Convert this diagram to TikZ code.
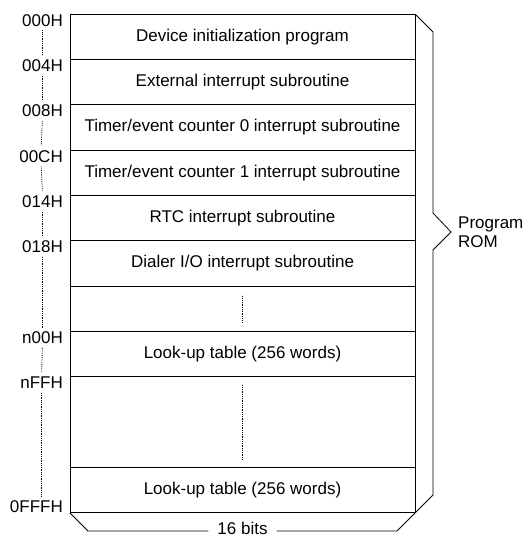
\documentclass[tikz,border=0pt]{standalone}
\usepackage{fontspec}
\setmainfont{Liberation Sans}
\usetikzlibrary{positioning}

\begin{document}
\begin{tikzpicture}[x=1pt,y=-1pt,font=\fontsize{17}{19}\selectfont,
	row/.style={draw,line width=1pt,minimum width=345pt,minimum height=45.36pt,inner sep=0pt,outer sep=0pt},
	addr/.style={inner sep=0pt,anchor=north east,xshift=-7pt},
	gap/.style={densely dotted,line width=0.8pt},
	edge/.style={line width=0.8pt}]
		\useasboundingbox (0,0) rectangle (525,536);

		\node[row]									(r1)	at (242.5,36.68)	{Device initialization program};
		\node[row,below=0pt of r1]					(r2)		{External interrupt subroutine};
		\node[row,below=0pt of r2]					(r3)		{Timer/event counter 0 interrupt subroutine};
		\node[row,below=0pt of r3]					(r4)		{Timer/event counter 1 interrupt subroutine};
		\node[row,below=0pt of r4]					(r5)		{RTC interrupt subroutine};
		\node[row,below=0pt of r5]					(r6)		{Dialer I/O interrupt subroutine};
		\node[row,below=0pt of r6]					(r7)		{};
		\node[row,below=0pt of r7]					(r8)		{Look-up table (256 words)};
		\node[row,below=0pt of r8,minimum height=90.72pt]	(r9)		{};
		\node[row,below=0pt of r9]					(r10)		{Look-up table (256 words)};

		\node[addr]		(a1)	at (r1.north west)	{000H};
		\node[addr]		(a2)	at (r2.north west)	{004H};
		\node[addr]		(a3)	at (r3.north west)	{008H};
		\node[addr]		(a4)	at (r4.north west)	{00CH};
		\node[addr]		(a5)	at (r5.north west)	{014H};
		\node[addr]		(a6)	at (r6.north west)	{018H};
		\node[addr]		(a7)	at (r8.north west)	{n00H};
		\node[addr]		(a8)	at (r9.north west)	{nFFH};
		\node[addr,anchor=south east]	(a9)	at (r10.south west)	{0FFFH};

		\foreach \i/\j in {a1/a2,a2/a3,a3/a4,a4/a5,a5/a6,a6/a7,a7/a8}
			\draw[gap,shorten <=4pt,shorten >=4pt] (\i.south) -- (\j.north);
		\draw[gap,shorten <=4pt,shorten >=4pt] (a8.south) -- (a8.south |- a9.north);

		\draw[gap] ([yshift=-13.5pt]r7.center) -- ([yshift=13.5pt]r7.center);
		\draw[gap] ([yshift=-37.5pt]r9.center) -- ([yshift=37.5pt]r9.center);

		\coordinate (tip) at (451,232);
		\node[anchor=west,align=left,inner sep=0pt] (rom) at ([xshift=7pt]tip) {Program\\ROM};
		\draw[edge] (r1.north east) -- ++(18,18) -- ++(0,181) -- (tip) -- ++(-18,18) -- ++(0,245) -- (r10.south east);

		\node[anchor=base,inner xsep=9pt,inner ysep=0pt] (bits) at (242.5,534.5) {16 bits};
		\draw[edge] (r10.south west) -- ++(18,18) coordinate (bl) -- (bl -| bits.west);
		\draw[edge] (r10.south east) -- ++(-18,18) coordinate (br) -- (br -| bits.east);
	\end{tikzpicture}
\end{document}
